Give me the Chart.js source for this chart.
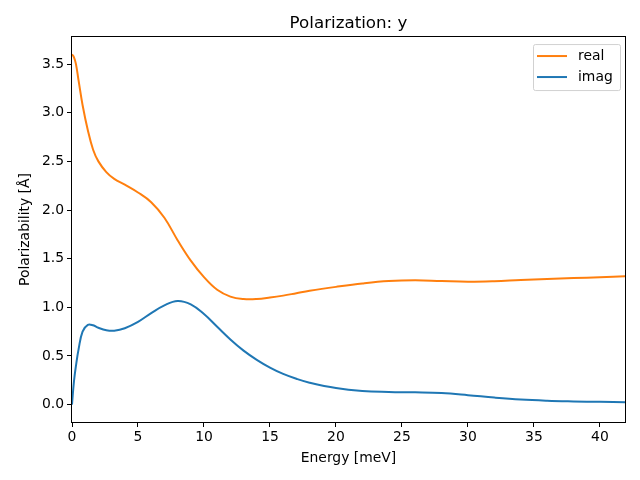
<!DOCTYPE html>
<html>
<head>
<meta charset="utf-8">
<script src="https://cdn.jsdelivr.net/npm/chart.js@4"></script>
<style>
  html, body { margin: 0; padding: 0; background: #fff; }
  #wrap { width: 640px; height: 480px; }
</style>
</head>
<body>
<div id="wrap"><canvas id="chart" width="640" height="480"></canvas></div>
<script>
// values
const energy = [0, 0.15, 0.3, 0.5, 0.8, 1.2, 1.6, 2.0, 2.6, 3.2, 4.0, 5.0, 6.0, 7.0, 8.0, 9.0, 10.0, 11.0, 12.0, 13.0, 14.0, 15.0, 16.0, 17.0, 18.0, 20.0, 22.0, 24.0, 26.0, 28.0, 30.0, 32.0, 34.0, 36.0, 38.0, 40.0, 42.0];
const realPart = [3.60, 3.57, 3.50, 3.33, 3.08, 2.82, 2.62, 2.50, 2.39, 2.32, 2.26, 2.18, 2.08, 1.92, 1.69, 1.48, 1.31, 1.18, 1.11, 1.085, 1.085, 1.10, 1.12, 1.145, 1.17, 1.21, 1.245, 1.27, 1.278, 1.27, 1.263, 1.268, 1.28, 1.29, 1.30, 1.31, 1.32];
const imagPart = [0.0, 0.24, 0.40, 0.57, 0.75, 0.82, 0.815, 0.79, 0.765, 0.76, 0.785, 0.85, 0.94, 1.02, 1.065, 1.03, 0.93, 0.80, 0.67, 0.555, 0.46, 0.38, 0.315, 0.265, 0.225, 0.17, 0.14, 0.13, 0.126, 0.118, 0.097, 0.072, 0.052, 0.04, 0.033, 0.028, 0.024];
const xTicks = [0, 5, 10, 15, 20, 25, 30, 35, 40];
const yTicks = [0.0, 0.5, 1.0, 1.5, 2.0, 2.5, 3.0, 3.5];
const seriesNames = ['real', 'imag'];
const seriesColors = ['#ff7f0e', '#1f77b4'];

const FONT = 'DejaVu Sans';

function toPoints(xs, ys) {
    let pts = [];
    for (let i = 0; i < xs.length; i++) {
        pts.push({x: xs[i], y: ys[i]});
    }
    return pts;
}

// axes frame + matplotlib style legend
const framePlugin = {
    id: 'frame',
    afterDraw(chart) {
        const ctx = chart.ctx;
        const a = chart.chartArea;
        ctx.save();
        ctx.strokeStyle = '#000';
        ctx.lineWidth = 1;
        ctx.strokeRect(Math.round(a.left) - 0.5, Math.round(a.top) - 0.5, Math.round(a.right - a.left) + 1, Math.round(a.bottom - a.top) + 1);

        const bw = 87, bh = 46;
        const bx = a.right - 5 - bw;
        const by = a.top + 7;
        ctx.fillStyle = 'rgba(255,255,255,0.8)';
        ctx.strokeStyle = 'rgba(204,204,204,0.9)';
        ctx.beginPath();
        ctx.roundRect(bx + 0.5, by + 0.5, bw, bh, 2);
        ctx.fill();
        ctx.stroke();

        ctx.font = '13.9px "' + FONT + '"';
        ctx.textBaseline = 'middle';
        ctx.textAlign = 'left';
        for (let i = 0; i < seriesNames.length; i++) {
            const ly = by + 12 + i * 21;
            ctx.strokeStyle = seriesColors[i];
            ctx.lineWidth = 2;
            ctx.beginPath();
            ctx.moveTo(bx + 4, ly);
            ctx.lineTo(bx + 34, ly);
            ctx.stroke();
            ctx.fillStyle = '#000';
            ctx.fillText(seriesNames[i], bx + 45, ly);
        }
        ctx.restore();
    }
};

const data = {
    datasets: [
        {
            label: seriesNames[0],
            data: toPoints(energy, realPart),
            borderColor: seriesColors[0],
            backgroundColor: seriesColors[0],
            borderWidth: 2,
            pointRadius: 0,
            tension: 0.4,
            fill: false,
        },
        {
            label: seriesNames[1],
            data: toPoints(energy, imagPart),
            borderColor: seriesColors[1],
            backgroundColor: seriesColors[1],
            borderWidth: 2,
            pointRadius: 0,
            tension: 0.4,
            fill: false,
        },
    ]
};

const tickFont = {family: FONT, size: 13.9};

const config = {
    type: 'line',
    data: data,
    options: {
        responsive: false,
        animation: false,
        layout: {padding: {top: 0, right: 15, bottom: 0, left: 0}},
        plugins: {
            legend: {display: false},
            tooltip: {enabled: false},
            title: {
                display: true,
                text: 'Polarization: y',
                fullSize: false,
                color: '#000',
                font: {family: FONT, size: 16.7, weight: 'normal', lineHeight: 1.2},
                padding: {top: 14, bottom: 3},
            },
        },
        scales: {
            x: {
                type: 'linear',
                min: 0,
                max: 41.9,
                afterBuildTicks: (scale) => { scale.ticks = xTicks.map(v => ({value: v})); },
                afterFit: (scale) => { scale.height = 58; },
                grid: {display: true, drawOnChartArea: false, drawTicks: true, tickLength: 5, color: '#000'},
                border: {display: false},
                ticks: {color: '#000', font: tickFont, padding: 2, maxRotation: 0, callback: (v) => String(v)},
                title: {display: true, text: 'Energy [meV]', color: '#000', font: {family: FONT, size: 13.9, lineHeight: 1.2}, padding: {top: 0, bottom: 13}},
            },
            y: {
                type: 'linear',
                min: -0.179,
                max: 3.778,
                afterBuildTicks: (scale) => { scale.ticks = yTicks.map(v => ({value: v})); },
                afterFit: (scale) => { scale.width = 72; },
                grid: {display: true, drawOnChartArea: false, drawTicks: true, tickLength: 5, color: '#000'},
                border: {display: false},
                ticks: {color: '#000', font: tickFont, padding: 3, callback: (v) => v.toFixed(1)},
                title: {display: true, text: 'Polarizability [Å]', color: '#000', font: {family: FONT, size: 13.9, lineHeight: 1.2}, padding: {top: 17, bottom: 0}},
            },
        },
    },
    plugins: [framePlugin],
};

let ctx = document.getElementById('chart').getContext('2d');
window.myChart = new Chart(ctx, config);
</script>
</body>
</html>
